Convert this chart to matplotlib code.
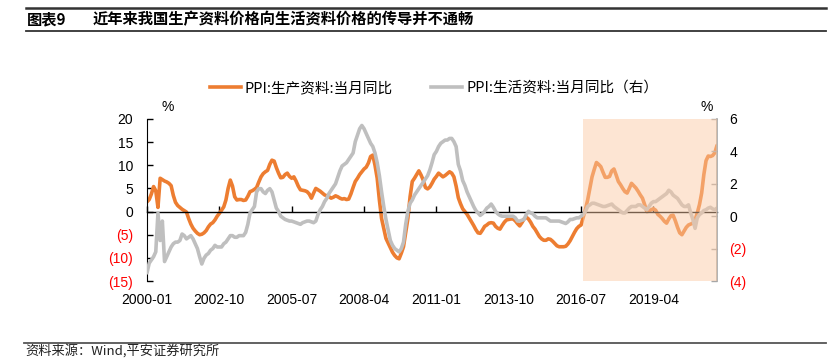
import matplotlib
matplotlib.use("Agg")
import matplotlib.pyplot as plt
from matplotlib.lines import Line2D
import numpy as np

plt.rcParams["font.family"] = ["Liberation Sans", "Noto Sans CJK SC", "DejaVu Sans"]
CJK = ["Noto Sans CJK SC", "Liberation Sans", "DejaVu Sans"]

# PPI 生产资料 当月同比 (%), monthly 2000-01 .. 2021-09, left axis
producer = [
    2.1, 2.6, 3.8, 5.4, 4.5, 0.9, 7.2, 6.9, 6.6, 6.4, 6.1, 5.6,          # 2000
    3.5, 2.0, 1.3, 0.9, 0.5, 0.2, -0.1, -1.5, -2.7, -3.6, -4.2, -4.7,    # 2001
    -5.0, -4.9, -4.6, -4.1, -3.3, -2.7, -2.4, -1.8, -1.0, -0.4, 0.3, 1.0,  # 2002
    2.5, 5.0, 6.8, 5.5, 3.2, 2.5, 2.6, 2.6, 2.4, 2.5, 3.3, 4.3,          # 2003
    4.5, 4.8, 5.2, 6.4, 7.5, 8.2, 8.6, 8.9, 10.2, 11.1, 10.9, 9.5,       # 2004
    8.3, 7.3, 7.4, 8.0, 8.3, 7.6, 7.2, 7.5, 6.6, 5.5, 4.7, 4.6,          # 2005
    4.5, 4.3, 3.8, 2.9, 4.0, 5.0, 4.7, 4.4, 4.0, 3.6, 3.4, 3.2,          # 2006
    2.9, 3.1, 3.4, 3.2, 2.9, 2.7, 2.8, 2.6, 2.7, 3.8, 5.2, 6.5,          # 2007
    7.2, 8.0, 8.6, 9.2, 9.6, 10.5, 11.9, 12.2, 10.0, 7.2, 2.5, -1.5,     # 2008
    -3.6, -5.8, -6.8, -7.8, -8.8, -9.5, -10.0, -10.2, -9.0, -7.6, -4.5, -1.5,  # 2009
    3.2, 6.5, 7.2, 8.0, 8.8, 7.9, 6.8, 5.2, 4.9, 5.3, 6.1, 7.0,          # 2010
    7.6, 8.3, 7.9, 7.5, 7.8, 8.2, 8.6, 8.3, 7.5, 5.5, 3.0, 1.7,          # 2011
    0.6, 0.0, -0.6, -1.4, -2.2, -3.0, -3.9, -4.6, -4.7, -4.0, -3.2, -2.9,  # 2012
    -2.5, -2.4, -2.5, -3.2, -3.6, -3.8, -3.0, -2.3, -1.8, -1.7, -1.6, -1.6,  # 2013
    -2.0, -2.6, -3.1, -2.4, -1.6, -1.2, -1.6, -2.3, -3.2, -3.8, -4.6, -5.4,  # 2014
    -5.9, -6.2, -6.2, -5.9, -6.0, -6.4, -6.9, -7.4, -7.6, -7.6, -7.6, -7.5,  # 2015
    -7.0, -6.3, -5.4, -4.5, -3.7, -3.2, -2.9, -1.2, 0.5, 2.5, 5.0, 7.5,  # 2016
    9.1, 10.6, 10.2, 9.7, 8.5, 7.4, 7.4, 7.6, 8.8, 9.2, 7.9, 6.5,        # 2017
    5.8, 5.0, 4.3, 4.0, 5.0, 6.1, 5.6, 5.1, 4.4, 3.6, 2.9, 1.5,          # 2018
    0.0, 0.1, 0.4, 0.6, 0.3, -0.6, -1.0, -1.5, -2.1, -2.5, -1.6, -0.9,   # 2019
    -0.8, -2.0, -3.4, -4.6, -5.0, -4.2, -3.4, -2.9, -2.7, -2.5, -1.8, -0.3,  # 2020
    1.5, 4.0, 8.0, 11.0, 12.0, 11.9, 12.1, 12.7, 14.3,                   # 2021
]

# PPI 生活资料 当月同比 (%), right axis
consumer = [
    -3.5, -2.9, -2.7, -2.5, -2.2, 0.2, -1.5, -0.3, -2.8, -2.5, -2.2, -1.9,
    -1.7, -1.6, -1.6, -1.5, -1.1, -1.2, -1.4, -1.3, -1.2, -1.4, -1.7, -2.0,
    -2.5, -2.95, -2.6, -2.4, -2.3, -2.1, -2.0, -1.8, -1.9, -1.9, -1.9, -1.7,
    -1.6, -1.4, -1.2, -1.2, -1.3, -1.3, -1.2, -1.2, -1.2, -1.0, -0.5, 0.2,
    0.4, 0.6, 1.5, 1.7, 1.7, 1.5, 1.4, 1.6, 1.7, 1.5, 1.0, 0.5,
    0.3, 0.0, -0.1, -0.2, -0.25, -0.3, -0.3, -0.35, -0.4, -0.45, -0.5, -0.4,
    -0.35, -0.3, -0.3, -0.35, -0.4, -0.3, 0.1, 0.4, 0.6, 0.9, 1.1, 1.4,
    1.6, 1.8, 2.0, 2.4, 2.8, 3.1, 3.2, 3.3, 3.5, 3.7, 3.9, 4.6,
    5.0, 5.4, 5.6, 5.4, 5.1, 4.8, 4.5, 4.3, 3.9, 3.3, 2.5, 1.5,
    0.6, -0.2, -0.85, -1.5, -1.8, -2.0, -2.1, -2.2, -2.0, -1.6, -0.5, 0.3,
    0.8, 1.0, 1.3, 1.5, 1.7, 1.9, 2.1, 2.3, 2.5, 2.85, 3.3, 3.8,
    4.0, 4.3, 4.5, 4.6, 4.7, 4.7, 4.8, 4.8, 4.6, 4.3, 3.2, 2.8,
    2.2, 1.9, 1.5, 1.2, 0.9, 0.6, 0.35, 0.2, 0.05, 0.15, 0.3, 0.5,
    0.6, 0.75, 0.55, 0.3, 0.15, 0.05, 0.0, 0.0, 0.0, 0.0, 0.0, 0.0,
    -0.1, -0.3, -0.3, -0.25, -0.2, 0.1, 0.3, 0.2, 0.15, 0.0, -0.1, -0.1,
    -0.1, -0.1, -0.1, -0.2, -0.3, -0.3, -0.3, -0.3, -0.3, -0.35, -0.4, -0.45,
    -0.35, -0.2, -0.2, -0.15, -0.1, -0.1, 0.0, 0.1, 0.3, 0.6, 0.7, 0.8,
    0.8, 0.75, 0.7, 0.65, 0.6, 0.6, 0.65, 0.7, 0.75, 0.6, 0.5, 0.4,
    0.3, 0.2, 0.2, 0.35, 0.5, 0.6, 0.6, 0.6, 0.7, 0.7, 0.6, 0.5,
    0.4, 0.6, 0.8, 0.9, 0.9, 1.0, 1.1, 1.2, 1.3, 1.4, 1.6, 1.5,
    1.3, 1.2, 1.1, 0.9, 0.7, 0.6, 0.6, 0.7, 0.2, -0.2, -0.75, -0.1,
    0.1, 0.2, 0.35, 0.4, 0.5, 0.55, 0.45, 0.4, 0.5,
]

xtick_labels = ["2000-01", "2002-10", "2005-07", "2008-04", "2011-01",
                "2013-10", "2016-07", "2019-04"]
left_ticks = [20, 15, 10, 5, 0, -5, -10, -15]
right_ticks = [6, 4, 2, 0, -2, -4]
shade_start = "2016-08"

months = np.arange(len(producer))
xticks = np.arange(len(xtick_labels)) * 33
shade_idx = (int(shade_start[:4]) - 2000) * 12 + int(shade_start[5:]) - 1

orange = "#ED7D31"
grey = "#BFBFBF"
red = "#FF0000"


def fmt(v):
    return "({})".format(-v) if v < 0 else str(v)


fig = plt.figure(figsize=(8.39, 3.58), dpi=100)
ax = fig.add_axes([147 / 839, 1 - 281 / 358, 570 / 839, 162 / 358])
ax2 = ax.twinx()

ax.plot(months, producer, color=orange, lw=2.6, solid_capstyle="round")
ax2.plot(months, consumer, color=grey, lw=2.6, solid_capstyle="round")
ax2.axvspan(shade_idx, months[-1], color="#FBC9A3", alpha=0.48, lw=0, zorder=5)

ax.set_xlim(0, months[-1])
ax.set_ylim(-15, 20)
ax2.set_ylim(-4, 6)

# x axis line through zero, labels at bottom
ax.spines["bottom"].set_position(("data", 0))
ax.spines["bottom"].set_linewidth(1.0)
ax.set_xticks(xticks)
ax.tick_params(axis="x", direction="in", length=4, width=1, labelbottom=False)
sec = ax.secondary_xaxis("bottom")
sec.set_xticks(xticks, xtick_labels)
sec.spines["bottom"].set_visible(False)
sec.tick_params(length=0, pad=9, labelsize=10)

ax.set_yticks(left_ticks, [fmt(v) for v in left_ticks])
ax.tick_params(axis="y", direction="in", length=4, width=1, pad=10, labelsize=10)
for t, v in zip(ax.get_yticklabels(), left_ticks):
    t.set_color(red if v < 0 else "black")

ax2.set_yticks(right_ticks, [fmt(v) for v in right_ticks])
ax2.tick_params(axis="y", direction="in", length=4, width=1, pad=9, labelsize=10,
                color="#A6A6A6")
for t, v in zip(ax2.get_yticklabels(), right_ticks):
    t.set_color(red if v < 0 else "black")

for a in (ax, ax2):
    a.spines["top"].set_visible(False)
ax.spines["right"].set_visible(False)
ax2.spines["left"].set_visible(False)
ax2.spines["bottom"].set_visible(False)
ax2.spines["right"].set_color("#A6A6A6")
ax2.spines["right"].set_linewidth(1.2)

fig.text(168 / 839, 1 - 107 / 358, "%", ha="center", va="center", fontsize=10)
fig.text(707 / 839, 1 - 107 / 358, "%", ha="center", va="center", fontsize=10)

handles = [Line2D([], [], color=orange, lw=2.6), Line2D([], [], color=grey, lw=2.6)]
fig.legend(handles, ["PPI:生产资料:当月同比", "PPI:生活资料:当月同比（右）"],
           loc="center", bbox_to_anchor=(434 / 839, 1 - 88 / 358), ncol=2,
           frameon=False, handlelength=2.1, handletextpad=0.3, columnspacing=2.6,
           prop={"family": CJK, "size": 10.5})

# header / footer
fig.add_artist(Line2D([26 / 839, 826 / 839], [1 - 8 / 358] * 2, color="#333333", lw=1.8))
fig.add_artist(Line2D([26 / 839, 826 / 839], [1 - 31 / 358] * 2, color="#333333", lw=1.3))
fig.add_artist(Line2D([24 / 839, 826 / 839], [1 - 343 / 358] * 2, color="#555555", lw=1.3))
fig.text(27 / 839, 1 - 19 / 358, "图表9", fontsize=11, fontweight="bold",
         family=CJK, va="center")
fig.text(93 / 839, 1 - 19 / 358, "近年来我国生产资料价格向生活资料价格的传导并不通畅",
         fontsize=11, fontweight="bold", family=CJK, va="center")
fig.text(25 / 839, 1 - 351 / 358, "资料来源：Wind,平安证券研究所", fontsize=9.5,
         family=CJK, va="center", style="italic", color="#222222")

fig.savefig("out.png", dpi=100)
